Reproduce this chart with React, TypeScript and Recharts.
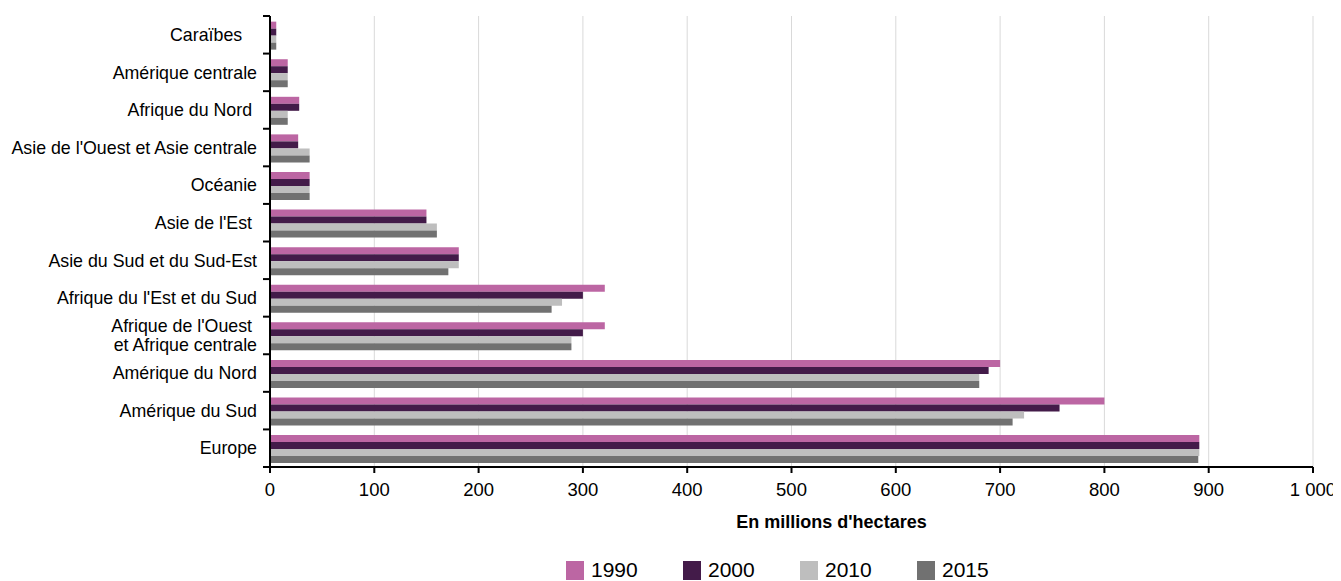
import {
  BarChart,
  Bar,
  XAxis,
  YAxis,
  CartesianGrid,
  Legend,
} from "recharts";

// Forest area by region, in millions of hectares
const regions = [
  "Caraïbes\u00a0\u00a0\u00a0",
  "Amérique centrale",
  "Afrique du Nord\u00a0",
  "Asie de l'Ouest et Asie centrale",
  "Océanie",
  "Asie de l'Est\u00a0",
  "Asie du Sud et du Sud-Est",
  "Afrique du l'Est et du Sud",
  "Afrique de l'Ouest\u00a0\net Afrique centrale",
  "Amérique du Nord",
  "Amérique du Sud",
  "Europe",
];
const area1990 = [6, 17, 28, 27, 38, 150, 181, 321, 321, 700, 800, 891];
const area2000 = [6, 17, 28, 27, 38, 150, 181, 300, 300, 689, 757, 891];
const area2010 = [6, 17, 17, 38, 38, 160, 181, 280, 289, 680, 723, 891];
const area2015 = [6, 17, 17, 38, 38, 160, 171, 270, 289, 680, 712, 890];
const xTicks = [0, 100, 200, 300, 400, 500, 600, 700, 800, 900, 1000];

const data = regions.map((region, i) => ({
  region,
  y1990: area1990[i],
  y2000: area2000[i],
  y2010: area2010[i],
  y2015: area2015[i],
}));

const series = [
  { key: "y1990", name: "1990", color: "#BC66A3" },
  { key: "y2000", name: "2000", color: "#431B49" },
  { key: "y2010", name: "2010", color: "#BEBEBE" },
  { key: "y2015", name: "2015", color: "#717171" },
];

const WIDTH = 1333;
const HEIGHT = 573;
const AXIS_W = 262;
const TOP = 8;
const PLOT_BOTTOM = 459;
const BAND = (PLOT_BOTTOM - TOP) / regions.length;
const FONT = "'Liberation Sans', Arial, sans-serif";

// category label plus the separator tick on the axis below it
function RegionTick(props: any) {
  const { y, payload, index } = props;
  const half = payload?.offset || BAND / 2;
  const fs = 17.8;
  const lh = 18.5;
  const lines = String(payload.value).split("\n");
  const tx = AXIS_W - 13;
  return (
    <g>
      {index === 0 && (
        <line x1={AXIS_W - 7} x2={AXIS_W} y1={y - half} y2={y - half} stroke="#000" strokeWidth={2} />
      )}
      <line x1={AXIS_W - 7} x2={AXIS_W} y1={y + half} y2={y + half} stroke="#000" strokeWidth={2} />
      <text x={tx} y={y} textAnchor="end" fontSize={fs} fill="#000" fontFamily={FONT}>
        {lines.map((line, i) => (
          <tspan
            key={i}
            x={tx}
            dy={i === 0 ? 0.35 * fs - ((lines.length - 1) * lh) / 2 : lh}
          >
            {line}
          </tspan>
        ))}
      </text>
    </g>
  );
}

function YearLegend(props: any) {
  const items = props.payload || [];
  return (
    <div style={{ display: "flex", alignItems: "center", height: 22, fontFamily: FONT }}>
      {items.map((item: any) => (
        <div
          key={item.value}
          style={{ display: "flex", alignItems: "center", width: 117 }}
        >
          <span
            style={{
              display: "inline-block",
              width: 18,
              height: 19,
              background: item.color,
              marginRight: 7,
            }}
          />
          <span style={{ fontSize: 21, color: "#000" }}>{item.value}</span>
        </div>
      ))}
    </div>
  );
}

const formatTick = (v: number) =>
  v >= 1000 ? `${Math.floor(v / 1000)}\u00a0${String(v % 1000).padStart(3, "0")}` : String(v);

export default function App() {
  return (
    <BarChart
      width={WIDTH}
      height={HEIGHT}
      data={data}
      layout="vertical"
      margin={{ top: TOP, right: 28, left: 0, bottom: 0 }}
      barCategoryGap="15%"
      barGap={0}
      style={{ fontFamily: FONT }}
    >
      <CartesianGrid horizontal={false} stroke="#D9D9D9" strokeWidth={1} />
      <XAxis
        type="number"
        domain={[0, 1000]}
        ticks={xTicks}
        tickFormatter={formatTick}
        interval={0}
        height={92}
        axisLine={{ stroke: "#000", strokeWidth: 2 }}
        tickLine={{ stroke: "#000", strokeWidth: 2 }}
        tickSize={6}
        tickMargin={10}
        tick={{ fill: "#000", fontSize: 18.5 }}
        label={{
          value: "En millions d'hectares",
          position: "insideBottom",
          offset: 31,
          dx: 40,
          fill: "#000",
          fontSize: 18,
          fontWeight: "bold",
        }}
      />
      <YAxis
        type="category"
        dataKey="region"
        width={AXIS_W}
        interval={0}
        axisLine={{ stroke: "#000", strokeWidth: 2 }}
        tickLine={false}
        tick={<RegionTick />}
      />
      <Legend
        verticalAlign="bottom"
        align="left"
        content={<YearLegend />}
        wrapperStyle={{ left: 558, width: 480, height: 22 }}
      />
      {series.map((s) => (
        <Bar
          key={s.key}
          dataKey={s.key}
          name={s.name}
          fill={s.color}
          isAnimationActive={false}
        />
      ))}
    </BarChart>
  );
}
